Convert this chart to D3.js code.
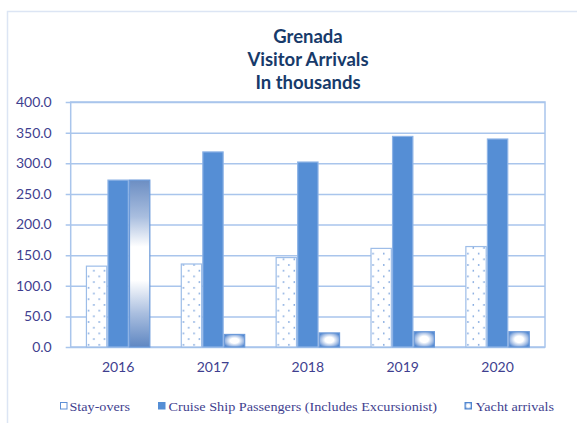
<!DOCTYPE html>
<html>
<head>
<meta charset="utf-8">
<script src="https://cdn.jsdelivr.net/npm/d3@7"></script>
<style>
  html, body { margin: 0; padding: 0; background: #fff; }
  svg { display: block; }
</style>
</head>
<body>
<svg id="chart" width="577" height="423"></svg>
<script>
const years = ["2016", "2017", "2018", "2019", "2020"];
const seriesNames = ["Stay-overs", "Cruise Ship Passengers (Includes Excursionist)", "Yacht arrivals"];
const stayOvers = [132.0, 135.5, 146.0, 161.0, 164.0];
const cruisePassengers = [272.5, 318.5, 302.0, 343.8, 339.6];
const yachtArrivals = [272.5, 20.5, 23.0, 25.0, 25.0];
const yTicks = [0, 50, 100, 150, 200, 250, 300, 350, 400];
const titleLines = ["Grenada", "Visitor Arrivals", "In thousands"];

const seriesValues = [stayOvers, cruisePassengers, yachtArrivals];

const svg = d3.select("#chart");
const W = 577, H = 423;
const plot = { left: 70.7, right: 545, top: 102, bottom: 347 };

const gridColor = "#A9C5EC";
const labelColor = "#3F3F8F";
const blue = "#558ED5";

const defs = svg.append("defs");
// dotted pattern for stay-overs
const pat = defs.append("pattern").attr("id", "dots")
  .attr("patternUnits", "userSpaceOnUse")
  .attr("width", 10.7).attr("height", 11.4);
pat.append("rect").attr("width", 10.7).attr("height", 11.4).attr("fill", "#fff");
pat.append("circle").attr("cx", 2.7).attr("cy", 2.8).attr("r", 0.8).attr("fill", "#6F9BDA");
pat.append("circle").attr("cx", 8.05).attr("cy", 8.5).attr("r", 0.8).attr("fill", "#6F9BDA");
// vertical gradient for tall yacht bar
const lg = defs.append("linearGradient").attr("id", "yachtTall")
  .attr("x1", 0).attr("y1", 0).attr("x2", 0).attr("y2", 1);
[[0, "#6C8EC3"], [0.22, "#A9BEDF"], [0.4, "#FFFFFF"], [0.6, "#FFFFFF"], [0.8, "#A9BEDF"], [1, "#5F87C2"]]
  .forEach(([o, c]) => lg.append("stop").attr("offset", o).attr("stop-color", c));
// radial gradient for short yacht bars
const rg = defs.append("radialGradient").attr("id", "yachtShort")
  .attr("cx", 0.5).attr("cy", 0.5).attr("r", 0.6);
[[0, "#FFFFFF"], [0.35, "#FFFFFF"], [0.75, "#9DB9E3"], [1, "#4F86D0"]]
  .forEach(([o, c]) => rg.append("stop").attr("offset", o).attr("stop-color", c));

// outer frame
svg.append("path")
  .attr("d", `M7.5,${H} V11.5 H${W}`)
  .attr("fill", "none").attr("stroke", "#DCE5F4").attr("stroke-width", 1.5);

// title
const title = svg.append("text")
  .attr("text-anchor", "middle")
  .attr("font-family", "Lato, 'Open Sans', sans-serif")
  .attr("font-weight", "bold").attr("font-size", 18.5)
  .attr("fill", "#173A6A");
titleLines.forEach((t, i) => {
  title.append("tspan").attr("x", 308).attr("y", 43 + i * 23).text(t);
});

const x0 = d3.scaleBand().domain(years).range([plot.left, plot.right])
  .paddingInner(0.319).paddingOuter(0.1595);
const x1 = d3.scaleBand().domain(d3.range(seriesNames.length)).range([0, x0.bandwidth()]);
const y = d3.scaleLinear().domain([0, 400]).range([plot.bottom, plot.top]);

// gridlines + y axis
const yAxis = d3.axisLeft(y).tickValues(yTicks).tickSize(plot.right - plot.left + 5)
  .tickFormat(d => d3.format(".1f")(d)).tickPadding(14);
const gy = svg.append("g").attr("transform", `translate(${plot.right},0)`).call(yAxis);
gy.select(".domain").remove();
gy.selectAll(".tick line").attr("stroke", gridColor).attr("stroke-width", 1.5);
gy.selectAll(".tick text")
  .attr("font-family", "Lato, 'Open Sans', sans-serif").attr("font-size", 14)
  .attr("fill", labelColor);

// plot border
svg.append("rect")
  .attr("x", plot.left).attr("y", plot.top)
  .attr("width", plot.right - plot.left).attr("height", plot.bottom - plot.top)
  .attr("fill", "none").attr("stroke", gridColor).attr("stroke-width", 1.5);

// bars
const groups = svg.append("g").selectAll("g").data(years).join("g")
  .attr("transform", d => `translate(${x0(d)},0)`);

groups.each(function(year, yi) {
  const g = d3.select(this);
  seriesValues.forEach((vals, si) => {
    const v = vals[yi];
    const bx = x1(si), bw = x1.bandwidth();
    const by = y(v), bh = y(0) - y(v);
    let fill, stroke;
    if (si === 0) { fill = "url(#dots)"; stroke = "#9DBDE8"; }
    else if (si === 1) { fill = blue; stroke = "#8DB3E6"; }
    else { fill = bh > 3 * bw ? "url(#yachtTall)" : "url(#yachtShort)"; stroke = "#6C9AD9"; }
    g.append("rect")
      .attr("x", bx + 0.6).attr("y", by)
      .attr("width", bw - 1.2).attr("height", bh)
      .attr("fill", fill).attr("stroke", stroke).attr("stroke-width", 1.2);
  });
});

// x labels
svg.append("g").selectAll("text").data(years).join("text")
  .attr("x", d => x0(d) + x0.bandwidth() / 2)
  .attr("y", 372)
  .attr("text-anchor", "middle")
  .attr("font-family", "Lato, 'Open Sans', sans-serif").attr("font-size", 14)
  .attr("fill", labelColor)
  .text(d => d);

// legend
const legendItems = [
  { sx: 60, tx: 69.5, tw: 60.5, fill: "#fff", stroke: "#5E90D6" },
  { sx: 158, tx: 168.5, tw: 268.5, fill: blue, stroke: blue },
  { sx: 464.5, tx: 475.5, tw: 78.5, fill: "url(#yachtShort)", stroke: "#4F86D0" }
];
const lg2 = svg.append("g");
legendItems.forEach((it, i) => {
  lg2.append("rect").attr("x", it.sx + 0.5).attr("y", 402.5).attr("width", 6.5).attr("height", 6.5)
    .attr("fill", it.fill).attr("stroke", it.stroke).attr("stroke-width", 1);
  lg2.append("text").attr("x", it.tx).attr("y", 410.5)
    .attr("font-family", "'Liberation Serif', 'DejaVu Serif', serif").attr("font-size", 13)
    .attr("fill", labelColor)
    .attr("textLength", it.tw).attr("lengthAdjust", "spacingAndGlyphs")
    .text(seriesNames[i]);
});
</script>
</body>
</html>
